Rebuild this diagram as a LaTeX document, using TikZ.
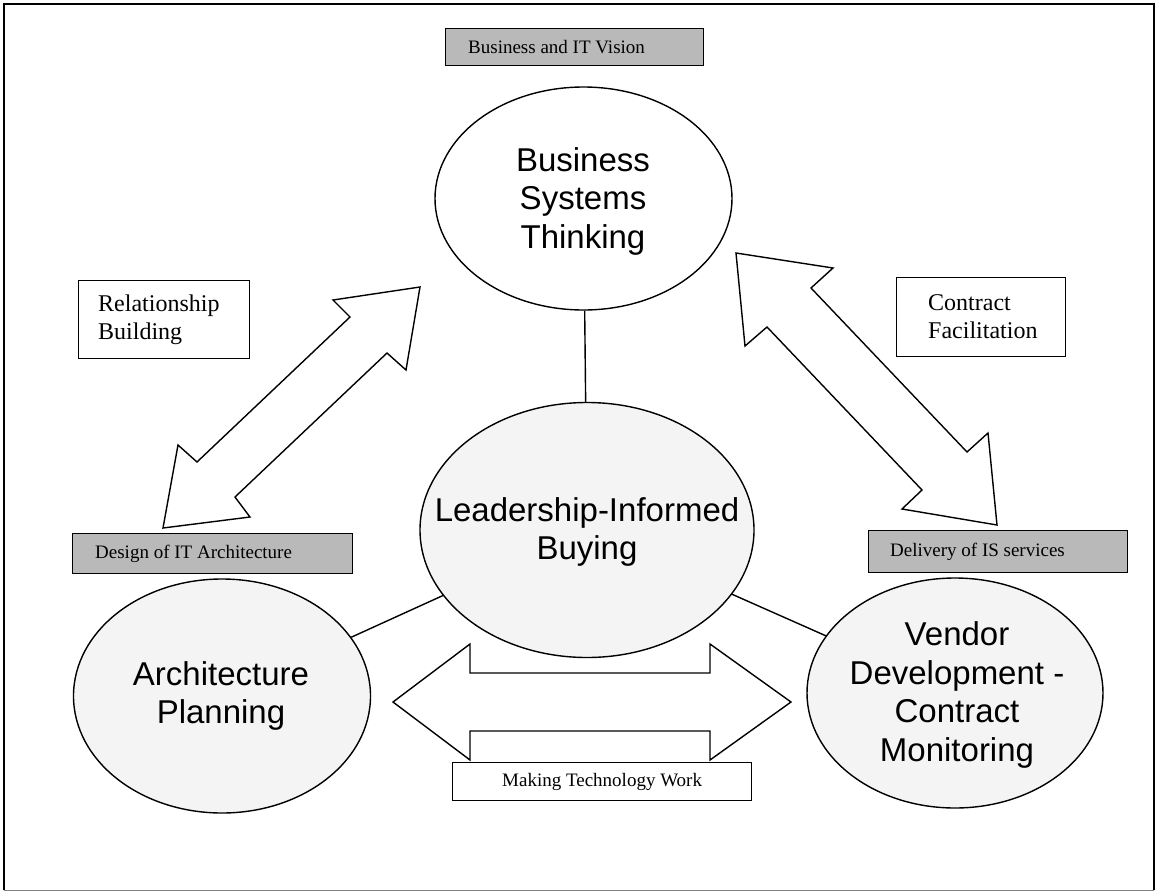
\documentclass[tikz,border=0pt]{standalone}
\usepackage{fontspec}
\setmainfont{Liberation Serif}
\newfontfamily\arialfont{Liberation Sans}
\usetikzlibrary{shapes.geometric}

\begin{document}
\begin{tikzpicture}[x=1pt,y=-1pt,
  oval/.style={ellipse, draw, line width=1.4pt, inner sep=0pt},
  ovaltext/.style={font=\arialfont\fontsize{33}{38.5}\selectfont, align=center, inner sep=0pt},
  blockarrow/.style={draw, fill=white, line width=1.4pt, line join=miter},
  link/.style={line width=1.4pt},
  graylabel/.style={draw, fill=gray!55, line width=1.2pt, anchor=north west, inner sep=0pt},
  labeltext/.style={font=\fontsize{19}{22}\selectfont, anchor=west, inner sep=0pt},
  notebox/.style={draw, fill=white, line width=1.2pt, anchor=north west, inner sep=0pt},
  notetext/.style={font=\fontsize{24}{28}\selectfont, align=left, anchor=west, inner sep=0pt}
]
\useasboundingbox (0,0) rectangle (1157,892);

% outer frame
\draw[line width=1.4pt] (4,890) -- (4,4) -- (1154,4) -- (1154,890);
\draw[gray, line width=1pt] (4,890) -- (1154,890);

% the four ovals
\node[oval, fill=white, minimum width=297pt, minimum height=223pt] (bst) at (583.5,198.5) {};
\node[oval, fill=gray!9, minimum width=334pt, minimum height=255pt] (lib) at (587,530) {};
\node[oval, fill=gray!9, minimum width=297pt, minimum height=234pt] (ap) at (222,696) {};
\node[oval, fill=gray!9, minimum width=296pt, minimum height=230pt] (vdcm) at (955,693) {};

% connecting lines between the ovals
\draw[link] (bst) -- (lib);
\draw[link] (lib) -- (ap);
\draw[link] (lib) -- (vdcm);

% oval captions
\node[ovaltext] (bsttext) at (583,201) {Business\\Systems\\Thinking};
\node[ovaltext] (libtext) at (587,532) {Leadership-Informed\\Buying};
\node[ovaltext] (aptext) at (221,696) {Architecture\\Planning};
\node[ovaltext] (vdcmtext) at (957,695) {Vendor\\Development -\\Contract\\Monitoring};

% block arrows
\draw[blockarrow] (420,287) -- (333,300) -- (350,317) -- (197,462) -- (178,445)
  -- (163,528) -- (250,517) -- (235,497) -- (387,353) -- (406,370) -- cycle;
\draw[blockarrow] (736,253) -- (833,268) -- (811,288) -- (967,452) -- (988,433)
  -- (997,525) -- (902,509) -- (922,490) -- (767,327) -- (745,346) -- cycle;
\draw[blockarrow] (393,702) -- (470,644) -- (470,673) -- (710,673) -- (710,644)
  -- (791,702) -- (710,760) -- (710,731) -- (470,731) -- (470,760) -- cycle;

% white note boxes
\node[notebox, minimum width=171pt, minimum height=78pt] (rb) at (78,280) {};
\node[notetext] (rbtext) at ([xshift=20pt]rb.west) {Relationship\\Building};
\node[notebox, minimum width=169pt, minimum height=79pt] (cf) at (896,277) {};
\node[notetext] (cftext) at ([xshift=32pt]cf.west) {Contract\\Facilitation};
\node[notebox, minimum width=299pt, minimum height=38pt] (mtw) at (452,762) {};
\node[font=\fontsize{19}{22}\selectfont, inner sep=0pt] (mtwtext) at (mtw.center) {Making Technology Work};

% shaded headings
\node[graylabel, minimum width=258pt, minimum height=37pt] (vision) at (445,28) {};
\node[labeltext] (visiontext) at ([xshift=23pt]vision.west) {Business and IT Vision};
\node[graylabel, minimum width=280pt, minimum height=40pt] (design) at (72,533) {};
\node[labeltext] (designtext) at ([xshift=23pt]design.west) {Design of IT Architecture};
\node[graylabel, minimum width=259pt, minimum height=42pt] (delivery) at (868,530) {};
\node[labeltext] (deliverytext) at ([xshift=22pt]delivery.west) {Delivery of IS services};
\end{tikzpicture}
\end{document}
